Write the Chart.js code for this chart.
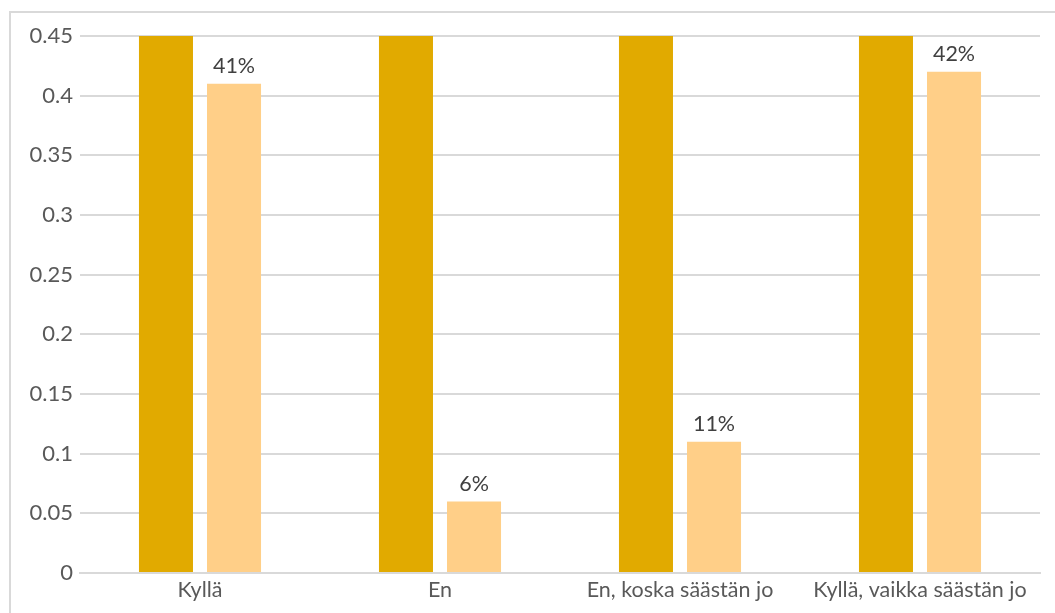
<!DOCTYPE html>
<html>
<head>
<meta charset="utf-8">
<script src="https://cdn.jsdelivr.net/npm/chart.js@4/dist/chart.umd.min.js"></script>
<style>
  html, body { margin: 0; padding: 0; background: #fff; overflow: hidden; }
  #frame { position: absolute; left: 9px; top: 11px; width: 1100px; height: 660px;
           border: 2px solid #d9d9d9; box-sizing: border-box; }
  #wrap { position: absolute; left: 0; top: 0; width: 1055px; height: 613px; }
</style>
</head>
<body>
<div id="frame"></div>
<div id="wrap"><canvas id="c"></canvas></div>
<script>
const categories = ['Kyllä', 'En', 'En, koska säästän jo', 'Kyllä, vaikka säästän jo'];
const seriesA = [0.5, 0.5, 0.5, 0.5];
const seriesB = [0.41, 0.06, 0.11, 0.42];
const yTicks = { min: 0, max: 0.45, step: 0.05 };

// Percentage labels above the lighter bars
const valueLabels = {
  id: 'valueLabels',
  afterDatasetsDraw(chart) {
    const ctx = chart.ctx;
    const meta = chart.getDatasetMeta(1);
    ctx.save();
    ctx.font = '21.5px Lato';
    ctx.fillStyle = '#404040';
    ctx.textAlign = 'center';
    ctx.textBaseline = 'bottom';
    meta.data.forEach((bar, i) => {
      const v = chart.data.datasets[1].data[i];
      ctx.fillText(Math.round(v * 100) + '%', bar.x, bar.y - 7);
    });
    ctx.restore();
  }
};

new Chart(document.getElementById('c'), {
  type: 'bar',
  data: {
    labels: categories,
    datasets: [
      { data: seriesA, backgroundColor: '#E1AA00', categoryPercentage: 0.567, barPercentage: 0.794 },
      { data: seriesB, backgroundColor: '#FFCF88', categoryPercentage: 0.567, barPercentage: 0.794 }
    ]
  },
  options: {
    responsive: true,
    maintainAspectRatio: false,
    animation: false,
    layout: { padding: { top: 36, right: 15, left: 0, bottom: 0 } },
    plugins: { legend: { display: false }, tooltip: { enabled: false } },
    scales: {
      x: {
        grid: { display: false, drawTicks: false },
        border: { display: true, color: '#d9d9d9', width: 2 },
        ticks: { color: '#595959', font: { family: 'Lato', size: 21.5 }, padding: 4, maxRotation: 0, autoSkip: false },
        afterFit(s) { s.height = 40; }
      },
      y: {
        min: yTicks.min, max: yTicks.max,
        grid: { color: '#d9d9d9', lineWidth: 2, drawTicks: false },
        border: { display: false },
        ticks: {
          stepSize: yTicks.step, color: '#595959', font: { family: 'Lato', size: 22 }, padding: 7,
          callback: v => String(Math.round(v * 100) / 100)
        },
        afterFit(s) { s.width = 80; }
      }
    }
  },
  plugins: [valueLabels]
});
</script>
</body>
</html>
